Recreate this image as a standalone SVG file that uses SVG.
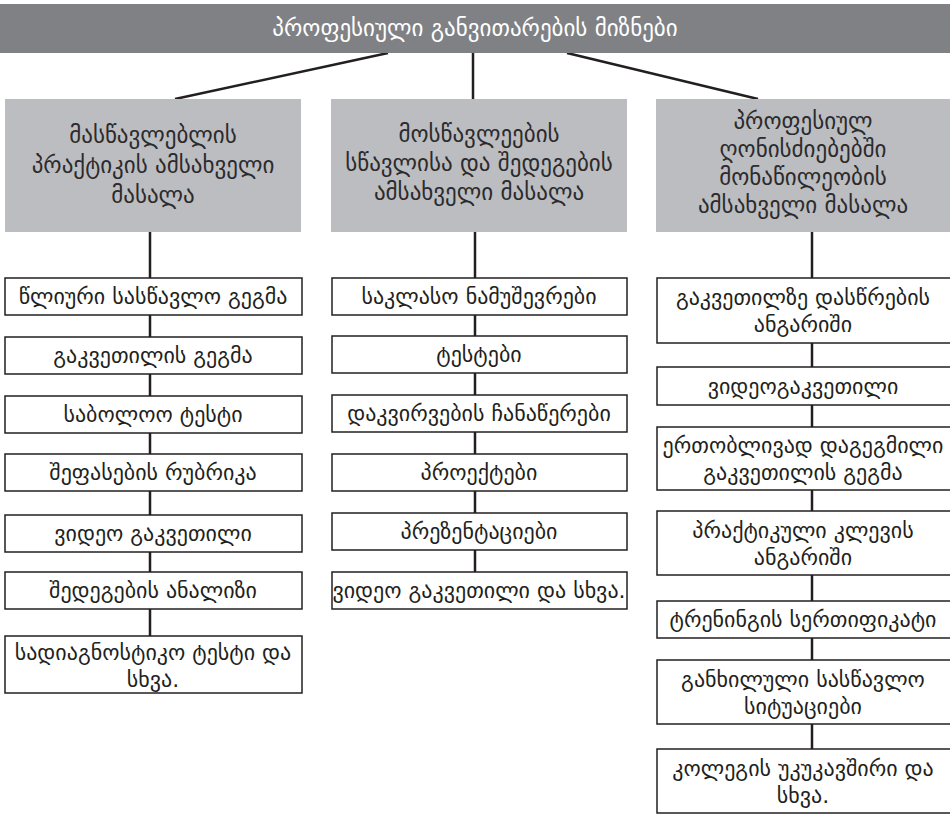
<svg xmlns="http://www.w3.org/2000/svg" width="950" height="815" viewBox="0 0 950 815">
<style>
  text { font-family: "DejaVu Sans", "Noto Sans", sans-serif; text-anchor: middle; dominant-baseline: central; }
  .title { fill: #ffffff; font-size: 23px; }
  .cat { fill: #2b2b2d; font-size: 23px; }
  .item { fill: #231f20; font-size: 22px; }
  .band { fill: #808185; }
  .catbox { fill: #bcbdc1; }
  .box { fill: #ffffff; stroke: #231f20; stroke-width: 1.5; }
  .conn { stroke: #231f20; stroke-width: 2.5; fill: none; }
</style>
<rect width="950" height="815" fill="#ffffff"/>

<g id="connectors">
  <line class="conn" x1="388" y1="53" x2="175" y2="99"/>
  <line class="conn" x1="473" y1="53" x2="473" y2="99"/>
  <line class="conn" x1="567" y1="53" x2="758" y2="99"/>
  <line class="conn" x1="150" y1="232" x2="150" y2="636"/>
  <line class="conn" x1="475" y1="232" x2="475" y2="572"/>
  <line class="conn" x1="812" y1="232" x2="812" y2="749"/>
</g>

<g id="root">
  <rect class="band" x="0" y="4" width="950" height="49"/>
  <text class="title" x="475" y="28">პროფესიული განვითარების მიზნები</text>
</g>

<g id="cat-teacher">
  <rect class="catbox" x="5" y="99" width="296" height="133"/>
  <text class="cat" x="153" y="135">მასწავლებლის</text>
  <text class="cat" x="153" y="165">პრაქტიკის ამსახველი</text>
  <text class="cat" x="153" y="195">მასალა</text>
</g>
<g id="cat-student">
  <rect class="catbox" x="331" y="99" width="296" height="133"/>
  <text class="cat" x="479" y="134">მოსწავლეების</text>
  <text class="cat" x="479" y="163">სწავლისა და შედეგების</text>
  <text class="cat" x="479" y="192">ამსახველი მასალა</text>
</g>
<g id="cat-events">
  <rect class="catbox" x="656" y="99" width="296" height="133"/>
  <text class="cat" x="803" y="121">პროფესიულ</text>
  <text class="cat" x="803" y="149">ღონისძიებებში</text>
  <text class="cat" x="803" y="177">მონაწილეობის</text>
  <text class="cat" x="803" y="205">ამსახველი მასალა</text>
</g>

<g id="l1"><rect class="box" x="5" y="278" width="297" height="37"/><text class="item" x="153" y="296.5">წლიური სასწავლო გეგმა</text></g>
<g id="l2"><rect class="box" x="5" y="337" width="297" height="37"/><text class="item" x="153" y="355.5">გაკვეთილის გეგმა</text></g>
<g id="l3"><rect class="box" x="5" y="396" width="297" height="37"/><text class="item" x="153" y="414.5">საბოლოო ტესტი</text></g>
<g id="l4"><rect class="box" x="5" y="454" width="297" height="37"/><text class="item" x="153" y="472.5">შეფასების რუბრიკა</text></g>
<g id="l5"><rect class="box" x="5" y="515" width="297" height="37"/><text class="item" x="153" y="533.5">ვიდეო გაკვეთილი</text></g>
<g id="l6"><rect class="box" x="5" y="572" width="297" height="37"/><text class="item" x="153" y="590.5">შედეგების ანალიზი</text></g>
<g id="l7"><rect class="box" x="5" y="636" width="297" height="57"/><text class="item" x="153" y="652">სადიაგნოსტიკო ტესტი და</text><text class="item" x="153" y="679">სხვა.</text></g>

<g id="m1"><rect class="box" x="332" y="278" width="295" height="37"/><text class="item" x="479" y="296.5">საკლასო ნამუშევრები</text></g>
<g id="m2"><rect class="box" x="332" y="336" width="295" height="37"/><text class="item" x="479" y="354.5">ტესტები</text></g>
<g id="m3"><rect class="box" x="332" y="395" width="295" height="37"/><text class="item" x="479" y="413.5">დაკვირვების ჩანაწერები</text></g>
<g id="m4"><rect class="box" x="332" y="454" width="295" height="37"/><text class="item" x="479" y="472.5">პროექტები</text></g>
<g id="m5"><rect class="box" x="332" y="513" width="295" height="37"/><text class="item" x="479" y="531.5">პრეზენტაციები</text></g>
<g id="m6"><rect class="box" x="332" y="572" width="295" height="37"/><text class="item" x="479" y="590.5">ვიდეო გაკვეთილი და სხვა.</text></g>

<g id="r1"><rect class="box" x="657" y="278" width="296" height="65"/><text class="item" x="803" y="297">გაკვეთილზე დასწრების</text><text class="item" x="803" y="324">ანგარიში</text></g>
<g id="r2"><rect class="box" x="657" y="367" width="296" height="38"/><text class="item" x="803" y="386">ვიდეოგაკვეთილი</text></g>
<g id="r3"><rect class="box" x="657" y="427" width="296" height="63"/><text class="item" x="803" y="445">ერთობლივად დაგეგმილი</text><text class="item" x="803" y="472">გაკვეთილის გეგმა</text></g>
<g id="r4"><rect class="box" x="657" y="511" width="296" height="64"/><text class="item" x="803" y="530">პრაქტიკული კლევის</text><text class="item" x="803" y="557">ანგარიში</text></g>
<g id="r5"><rect class="box" x="657" y="601" width="296" height="37"/><text class="item" x="803" y="619.5">ტრენინგის სერთიფიკატი</text></g>
<g id="r6"><rect class="box" x="657" y="660" width="296" height="64"/><text class="item" x="803" y="679">განხილული სასწავლო</text><text class="item" x="803" y="706">სიტუაციები</text></g>
<g id="r7"><rect class="box" x="657" y="749" width="296" height="64"/><text class="item" x="803" y="768">კოლეგის უკუკავშირი და</text><text class="item" x="803" y="795">სხვა.</text></g>
</svg>
